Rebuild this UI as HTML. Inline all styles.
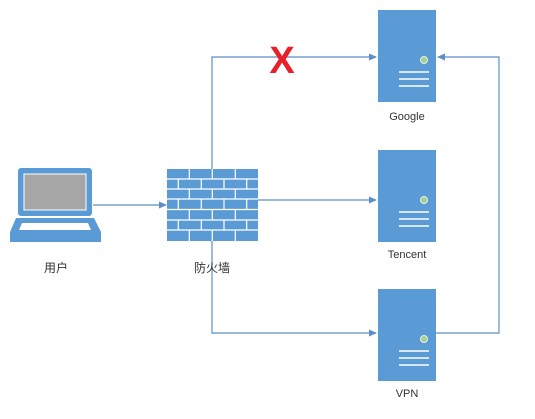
<!DOCTYPE html>
<html><head><meta charset="utf-8"><style>
body{margin:0;background:#fff;width:535px;height:414px;overflow:hidden}
text{font-family:"Liberation Sans","Noto Sans CJK SC",sans-serif;font-size:11px;fill:#333}
</style></head><body>
<svg width="535" height="414" viewBox="0 0 535 414" xmlns="http://www.w3.org/2000/svg">
<defs><marker id="a" markerWidth="8" markerHeight="8" refX="7" refY="4" orient="auto" markerUnits="userSpaceOnUse"><path d="M0,0.5 L8,4 L0,7.5 z" fill="#5b8fc7"/></marker></defs>
<g stroke="#5b8fc7" stroke-width="1.2" fill="none">
<line x1="93" y1="205" x2="166" y2="205" marker-end="url(#a)"/>
<polyline points="212,169 212,57 376,57" marker-end="url(#a)"/>
<line x1="258" y1="200" x2="376" y2="200" marker-end="url(#a)"/>
<polyline points="212,241 212,333 376,333" marker-end="url(#a)"/>
<polyline points="436,333 499,333 499,57 438,57" marker-end="url(#a)"/>
</g>
<!-- laptop -->
<rect x="18" y="168" width="74" height="48" rx="3" fill="#5b9bd5"/>
<rect x="24" y="174" width="62" height="36" fill="#a6a6a6" stroke="#fff" stroke-width="1"/>
<path d="M16,218 L94,218 L101,232 L101,242 L10,242 L10,232 Z" fill="#5b9bd5"/>
<path d="M22,223 L88,223 L91,230 L19,230 Z" fill="#fff"/>
<!-- firewall -->
<rect x="167" y="169" width="91" height="72" fill="#5b9bd5"/>
<g stroke="#fff" stroke-width="1.2">
<line x1="167" y1="179" x2="258" y2="179"/><line x1="167" y1="189" x2="258" y2="189"/><line x1="167" y1="199" x2="258" y2="199"/><line x1="167" y1="209.5" x2="258" y2="209.5"/><line x1="167" y1="220" x2="258" y2="220"/><line x1="167" y1="230" x2="258" y2="230"/>
<path d="M189.3,169V179M212.3,169V179M235.3,169V179 M189.3,189V199M212.3,189V199M235.3,189V199 M189.3,209.5V220M212.3,209.5V220M235.3,209.5V220 M189.3,230V241M212.3,230V241M235.3,230V241"/>
<path d="M178.3,179V189M201.3,179V189M224,179V189M246.7,179V189 M178.3,199V209.5M201.3,199V209.5M224,199V209.5M246.7,199V209.5 M178.3,220V230M201.3,220V230M224,220V230M246.7,220V230"/>
</g>
<!-- servers -->
<g id="s">
<rect x="378" y="10" width="58" height="92" fill="#5b9bd5"/>
<circle cx="424" cy="60" r="3.5" fill="#a9d18e" stroke="#fff" stroke-width="0.8"/>
<g stroke="#fff" stroke-width="1.6"><line x1="399" y1="72" x2="429" y2="72"/><line x1="399" y1="79" x2="429" y2="79"/><line x1="399" y1="86" x2="429" y2="86"/></g>
</g>
<use href="#s" y="140"/>
<use href="#s" y="279"/>
<!-- X -->
<text x="282" y="73" text-anchor="middle" style="font-size:38px;font-weight:bold;fill:#e8202a">X</text>
<text x="56" y="272" text-anchor="middle" style="font-size:12px">用户</text>
<text x="212" y="272" text-anchor="middle" style="font-size:12px">防火墙</text>
<text x="407" y="120" text-anchor="middle">Google</text>
<text x="407" y="258" text-anchor="middle">Tencent</text>
<text x="407" y="397" text-anchor="middle">VPN</text>
</svg>
</body></html>
